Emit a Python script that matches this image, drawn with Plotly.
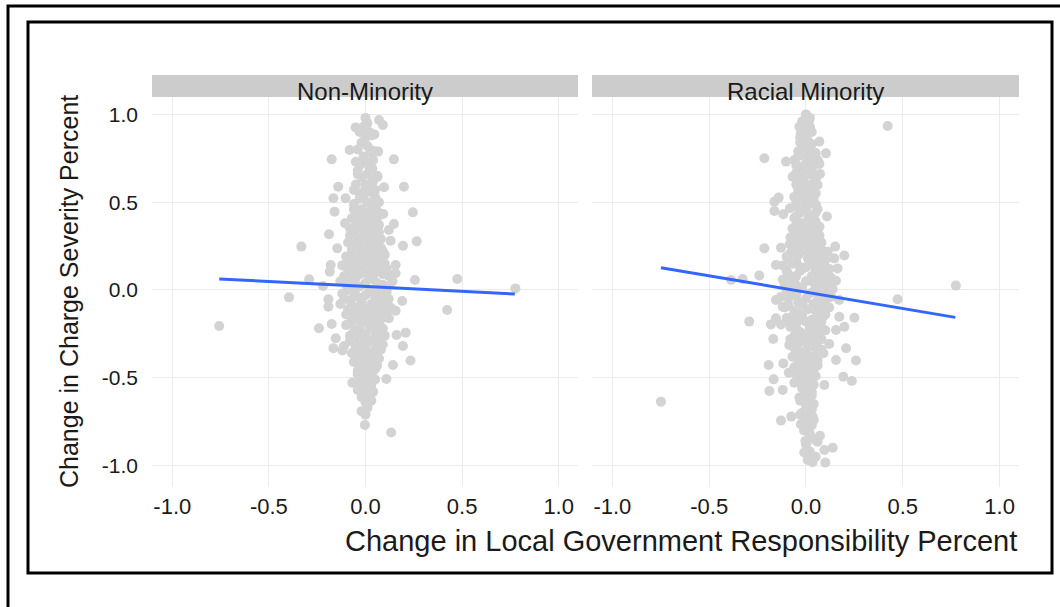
import plotly.graph_objects as go

# ---------------- data ----------------
panels = ["Non-Minority", "Racial Minority"]

# Non-Minority: (change in local gov responsibility, change in charge severity)
nm_outliers = [
    (-0.757, -0.205), (-0.396, -0.042), (-0.332, 0.247), (-0.292, 0.061), (-0.241, -0.218),
    (-0.175, 0.744), (-0.189, 0.317), (-0.166, 0.522), (-0.160, 0.446), (-0.141, 0.588),
    (-0.103, 0.522), (-0.082, 0.797), (-0.051, 0.926), (-0.106, 0.380), (-0.146, 0.237),
    (-0.180, 0.142), (-0.185, 0.104), (-0.220, 0.023), (-0.192, -0.053), (-0.192, -0.095),
    (-0.175, -0.194), (-0.154, -0.275), (-0.166, -0.332), (-0.111, -0.319), (-0.119, -0.345),
    (-0.068, -0.528), (-0.003, -0.769), (0.133, -0.812), (0.070, 0.968), (0.090, 0.940),
    (0.046, 0.886), (0.027, 0.797), (0.066, 0.788), (0.147, 0.744), (0.035, 0.693),
    (0.063, 0.645), (0.096, 0.585), (0.199, 0.588), (0.056, 0.494), (0.092, 0.433),
    (0.245, 0.442), (0.147, 0.376), (0.121, 0.342), (0.130, 0.281), (0.194, 0.252),
    (0.265, 0.277), (0.156, 0.142), (0.156, 0.095), (0.256, 0.057), (0.475, 0.063),
    (0.776, 0.009), (0.423, -0.114), (0.190, -0.063), (0.156, -0.118), (0.121, -0.161),
    (0.161, -0.256), (0.208, -0.243), (0.194, -0.319), (0.233, -0.402), (0.142, -0.427),
    (0.108, -0.507),
]
nm_core = [
    (0.0, 0.98), (0.01, 0.95), (-0.01, 0.93), (0.02, 0.90), (0.0, 0.87), (-0.02, 0.84),
    (0.01, 0.82), (0.03, 0.78), (-0.01, 0.76), (0.0, 0.73), (-0.03, 0.71), (0.02, 0.70),
    (-0.04, 0.68), (0.01, 0.66), (-0.02, 0.64), (0.04, 0.62), (0.0, 0.60), (-0.05, 0.60),
    (0.0, 0.58), (0.02, 0.56), (-0.03, 0.55), (0.05, 0.53), (-0.01, 0.52), (0.01, 0.50),
    (-0.06, 0.49), (0.03, 0.48), (-0.02, 0.46), (0.06, 0.45), (0.0, 0.44), (-0.04, 0.43),
    (0.02, 0.42), (-0.07, 0.41), (0.04, 0.40), (0.0, 0.39), (-0.02, 0.38), (0.07, 0.37),
    (0.01, 0.36), (-0.05, 0.35), (0.03, 0.34), (-0.01, 0.33), (0.05, 0.32), (-0.08, 0.31),
    (0.0, 0.30), (0.08, 0.29), (-0.03, 0.28), (0.02, 0.27), (-0.06, 0.26), (0.05, 0.25),
    (0.0, 0.24), (-0.02, 0.23), (0.09, 0.22), (0.03, 0.21), (-0.07, 0.20), (0.01, 0.20),
    (-0.10, 0.19), (0.06, 0.18), (-0.04, 0.17), (0.0, 0.16), (0.10, 0.15), (-0.12, 0.14),
    (0.03, 0.13), (-0.02, 0.12), (0.07, 0.11), (-0.08, 0.10), (0.01, 0.09), (0.12, 0.08),
    (-0.05, 0.07), (0.04, 0.06), (-0.13, 0.05), (0.0, 0.04), (0.09, 0.03), (-0.03, 0.02),
    (0.06, 0.01), (-0.09, 0.0), (0.02, 0.0), (0.11, -0.01), (-0.06, -0.02), (0.0, -0.03),
    (0.05, -0.04), (-0.11, -0.05), (0.08, -0.06), (-0.02, -0.07), (0.03, -0.08), (-0.07, -0.09),
    (0.13, -0.10), (0.0, -0.11), (-0.04, -0.12), (0.06, -0.13), (-0.10, -0.14), (0.02, -0.15),
    (0.09, -0.16), (-0.05, -0.17), (0.0, -0.18), (-0.08, -0.19), (0.05, -0.20), (0.03, -0.21),
    (-0.03, -0.22), (0.07, -0.23), (-0.06, -0.24), (0.0, -0.25), (0.10, -0.26), (-0.02, -0.27),
    (0.04, -0.28), (-0.08, -0.29), (0.01, -0.30), (0.06, -0.31), (-0.04, -0.32), (0.0, -0.33),
    (0.08, -0.34), (-0.06, -0.35), (0.02, -0.36), (-0.01, -0.37), (0.05, -0.38), (-0.05, -0.39),
    (0.0, -0.40), (0.03, -0.41), (-0.03, -0.42), (0.06, -0.43), (0.0, -0.44), (-0.02, -0.45),
    (0.04, -0.46), (0.01, -0.47), (-0.04, -0.48), (0.02, -0.50), (0.0, -0.52), (0.03, -0.54),
    (-0.02, -0.55), (0.01, -0.57), (0.03, -0.59), (-0.01, -0.60), (0.02, -0.62), (0.0, -0.64),
    (0.01, -0.67), (-0.02, -0.69), (0.0, -0.71),
]
nm_core2 = [
    (-0.03, 0.90), (0.03, 0.88), (-0.04, 0.80), (0.05, 0.79), (0.04, 0.74), (-0.05, 0.73),
    (0.03, 0.69), (-0.04, 0.66), (0.06, 0.65), (0.03, 0.61), (-0.06, 0.57), (0.05, 0.57),
    (-0.03, 0.52), (0.07, 0.50), (-0.06, 0.46), (0.04, 0.44), (-0.03, 0.41), (0.06, 0.41),
    (-0.05, 0.38), (0.04, 0.37), (-0.08, 0.35), (0.07, 0.33), (0.02, 0.31), (-0.05, 0.30),
    (0.06, 0.28), (-0.09, 0.27), (0.03, 0.26), (-0.04, 0.25), (0.08, 0.24), (-0.07, 0.23),
    (0.05, 0.22), (-0.02, 0.21), (0.10, 0.20), (-0.05, 0.19), (0.03, 0.18), (-0.08, 0.17),
    (0.08, 0.17), (0.02, 0.15), (-0.10, 0.15), (0.06, 0.14), (-0.05, 0.13), (0.11, 0.12),
    (-0.09, 0.12), (0.05, 0.10), (-0.03, 0.09), (0.09, 0.09), (-0.11, 0.08), (0.03, 0.07),
    (0.14, 0.05), (-0.07, 0.05), (0.06, 0.04), (-0.10, 0.03), (0.12, 0.02), (-0.05, 0.01),
    (0.04, -0.01), (-0.12, -0.02), (0.09, -0.02), (-0.04, -0.04), (0.12, -0.05), (-0.08, -0.06),
    (0.06, -0.07), (-0.13, -0.08), (0.10, -0.09), (-0.05, -0.10), (0.04, -0.10), (-0.09, -0.11),
    (0.08, -0.12), (-0.02, -0.13), (0.11, -0.14), (-0.07, -0.15), (0.05, -0.16), (-0.03, -0.18),
    (0.07, -0.19), (-0.10, -0.20), (0.02, -0.20), (0.09, -0.22), (-0.05, -0.23), (0.05, -0.24),
    (-0.08, -0.26), (0.07, -0.27), (-0.03, -0.28), (0.03, -0.29), (-0.06, -0.30), (0.09, -0.31),
    (-0.02, -0.33), (0.05, -0.34), (-0.07, -0.36), (0.04, -0.37), (-0.04, -0.38), (0.07, -0.39),
    (-0.06, -0.41), (0.02, -0.42), (-0.02, -0.43), (0.05, -0.45), (-0.04, -0.46), (0.03, -0.48),
    (-0.01, -0.49), (0.05, -0.51), (-0.03, -0.52), (0.02, -0.55), (-0.04, -0.57), (0.04, -0.58),
    (-0.02, -0.61), (0.03, -0.63), (0.01, -0.66),
]

rm_outliers = [
    (-0.749, -0.636), (0.422, 0.934), (0.774, 0.025), (0.473, -0.053), (-0.215, 0.750),
    (-0.103, 0.731), (-0.069, 0.645), (0.069, 0.845), (0.103, 0.778), (0.069, 0.718),
    (0.072, 0.661), (0.060, 0.598), (-0.141, 0.526), (-0.163, 0.503), (-0.163, 0.450),
    (-0.117, 0.431), (-0.083, 0.465), (0.052, 0.484), (0.108, 0.418), (-0.215, 0.237),
    (-0.129, 0.241), (-0.083, 0.262), (0.151, 0.247), (0.112, 0.218), (0.198, 0.196),
    (0.146, 0.180), (-0.155, 0.142), (-0.241, 0.082), (-0.327, 0.063), (-0.387, 0.057),
    (0.163, 0.123), (0.155, 0.053), (0.138, 0.004), (0.172, -0.057), (-0.155, -0.057),
    (-0.120, -0.095), (0.172, -0.152), (0.250, -0.158), (-0.293, -0.180), (-0.181, -0.196),
    (-0.155, -0.161), (-0.129, -0.196), (0.198, -0.209), (0.155, -0.228), (-0.169, -0.279),
    (-0.086, -0.313), (0.207, -0.332), (0.120, -0.308), (-0.193, -0.427), (-0.117, -0.418),
    (-0.089, -0.471), (0.155, -0.399), (0.258, -0.402), (0.193, -0.494), (0.237, -0.518),
    (-0.167, -0.509), (-0.060, -0.528), (-0.189, -0.575), (-0.120, -0.569), (0.095, -0.541),
    (-0.034, -0.613), (-0.129, -0.744), (-0.076, -0.721), (-0.026, -0.765), (0.034, -0.721),
    (0.0, -0.797), (0.072, -0.830), (0.060, -0.864), (-0.003, -0.860), (0.138, -0.898),
    (0.095, -0.911), (-0.009, -0.926), (0.009, -0.968), (0.034, -0.981), (0.100, -0.983),
    (0.0, 1.0), (0.017, 0.968), (-0.034, 0.930), (-0.026, 0.892), (-0.021, 0.845),
]
rm_core = [
    (0.0, 0.99), (0.01, 0.97), (-0.01, 0.95), (0.02, 0.93), (-0.02, 0.91), (0.0, 0.89),
    (-0.03, 0.87), (0.01, 0.85), (0.03, 0.83), (-0.01, 0.81), (0.0, 0.79), (0.04, 0.77),
    (-0.04, 0.76), (0.02, 0.75), (-0.06, 0.74), (0.0, 0.72), (-0.02, 0.70), (0.03, 0.69),
    (-0.05, 0.67), (0.01, 0.66), (-0.01, 0.64), (0.05, 0.63), (-0.03, 0.62), (0.0, 0.60),
    (0.02, 0.58), (-0.04, 0.57), (0.01, 0.55), (-0.02, 0.54), (0.04, 0.52), (0.0, 0.51),
    (-0.05, 0.50), (0.02, 0.49), (-0.01, 0.47), (0.06, 0.46), (0.0, 0.45), (-0.03, 0.44),
    (0.03, 0.42), (-0.06, 0.41), (0.01, 0.40), (0.05, 0.39), (-0.02, 0.38), (0.0, 0.36),
    (-0.07, 0.35), (0.04, 0.34), (0.02, 0.33), (-0.04, 0.32), (0.07, 0.31), (0.0, 0.30),
    (-0.01, 0.28), (0.05, 0.27), (-0.06, 0.26), (0.02, 0.25), (-0.03, 0.24), (0.08, 0.23),
    (0.0, 0.22), (-0.08, 0.21), (0.04, 0.20), (-0.10, 0.19), (0.01, 0.18), (0.10, 0.17),
    (-0.05, 0.16), (0.06, 0.15), (-0.12, 0.14), (0.0, 0.13), (0.12, 0.12), (-0.03, 0.11),
    (0.08, 0.10), (-0.09, 0.09), (0.03, 0.08), (0.13, 0.07), (-0.06, 0.06), (0.0, 0.05),
    (0.09, 0.04), (-0.11, 0.03), (0.05, 0.02), (-0.02, 0.01), (0.11, 0.0), (-0.07, -0.01),
    (0.02, -0.02), (0.07, -0.03), (-0.13, -0.04), (0.0, -0.05), (0.10, -0.06), (-0.04, -0.07),
    (0.04, -0.08), (-0.09, -0.09), (0.12, -0.10), (0.01, -0.11), (-0.06, -0.12), (0.07, -0.13),
    (-0.02, -0.14), (0.09, -0.15), (-0.10, -0.16), (0.03, -0.17), (0.0, -0.18), (-0.05, -0.19),
    (0.06, -0.20), (-0.08, -0.21), (0.02, -0.22), (0.10, -0.23), (-0.03, -0.24), (0.05, -0.25),
    (-0.06, -0.26), (0.0, -0.27), (0.08, -0.28), (-0.02, -0.29), (0.04, -0.30), (-0.07, -0.31),
    (0.01, -0.32), (0.06, -0.33), (-0.04, -0.34), (0.0, -0.35), (0.09, -0.36), (-0.05, -0.37),
    (0.03, -0.38), (-0.01, -0.39), (0.06, -0.40), (-0.03, -0.41), (0.02, -0.42), (0.0, -0.43),
    (-0.06, -0.44), (0.04, -0.45), (0.01, -0.46), (-0.02, -0.48), (0.05, -0.49), (0.0, -0.50),
    (-0.04, -0.51), (0.02, -0.53), (0.0, -0.55), (-0.02, -0.56), (0.03, -0.58), (0.01, -0.60),
    (-0.01, -0.62), (0.02, -0.64), (0.0, -0.66), (0.03, -0.68), (-0.02, -0.70), (0.01, -0.72),
    (0.04, -0.74), (0.0, -0.76), (0.02, -0.78), (-0.01, -0.80),
]
rm_core2 = [
    (0.02, 0.98), (-0.02, 0.96), (0.03, 0.90), (-0.03, 0.84), (0.02, 0.82), (-0.04, 0.79),
    (0.05, 0.78), (-0.02, 0.77), (0.06, 0.74), (-0.05, 0.71), (0.04, 0.71), (-0.03, 0.66),
    (0.04, 0.65), (-0.05, 0.60), (0.03, 0.60), (-0.02, 0.56), (0.05, 0.55), (-0.06, 0.53),
    (0.03, 0.50), (-0.04, 0.47), (0.05, 0.44), (-0.05, 0.42), (0.03, 0.38), (-0.05, 0.37),
    (0.07, 0.36), (-0.03, 0.34), (0.06, 0.32), (-0.08, 0.30), (0.03, 0.29), (-0.05, 0.28),
    (0.08, 0.27), (-0.02, 0.26), (0.05, 0.24), (-0.07, 0.23), (0.10, 0.21), (-0.04, 0.20),
    (0.07, 0.19), (-0.09, 0.18), (0.03, 0.16), (-0.07, 0.15), (0.09, 0.14), (-0.03, 0.13),
    (0.05, 0.12), (-0.10, 0.11), (0.10, 0.09), (-0.05, 0.08), (0.06, 0.07), (-0.12, 0.06),
    (0.03, 0.05), (-0.08, 0.04), (0.12, 0.03), (-0.04, 0.02), (0.08, 0.01), (-0.10, 0.0),
    (0.04, -0.01), (-0.05, -0.03), (0.13, -0.04), (-0.09, -0.05), (0.06, -0.06), (-0.02, -0.08),
    (0.08, -0.09), (-0.11, -0.10), (0.04, -0.11), (-0.04, -0.13), (0.10, -0.14), (-0.07, -0.15),
    (0.05, -0.16), (-0.03, -0.17), (0.08, -0.18), (-0.08, -0.19), (0.03, -0.21), (-0.05, -0.22),
    (0.07, -0.24), (-0.02, -0.25), (0.03, -0.27), (-0.08, -0.28), (0.06, -0.29), (-0.04, -0.30),
    (0.03, -0.32), (-0.06, -0.33), (0.08, -0.34), (-0.02, -0.36), (0.05, -0.37), (-0.07, -0.38),
    (0.02, -0.40), (-0.04, -0.42), (0.06, -0.43), (-0.02, -0.45), (0.03, -0.47), (-0.05, -0.48),
    (0.02, -0.51), (-0.03, -0.53), (0.04, -0.54), (-0.01, -0.57), (0.03, -0.60), (-0.03, -0.63),
    (0.04, -0.65), (0.01, -0.68), (-0.03, -0.71), (0.03, -0.72), (0.0, -0.74), (0.03, -0.77),
    (-0.01, -0.78), (0.02, -0.82), (0.04, -0.85), (0.0, -0.88), (0.02, -0.92), (0.05, -0.95),
]

# fitted regression lines (x endpoints, fitted y)
nm_fit_x = [-0.757, 0.773]
nm_fit_y = [0.063, -0.023]
rm_fit_x = [-0.749, 0.771]
rm_fit_y = [0.127, -0.156]

tick_vals = [-1.0, -0.5, 0.0, 0.5, 1.0]
tick_text = ["-1.0", "-0.5", "0.0", "0.5", "1.0"]

x_title = "Change in Local Government Responsibility Percent"
y_title = "Change in Charge Severity Percent"

# ---------------- layout geometry (pixels) ----------------
W, H = 1060, 607
def px(x):
    return x / W
def py(y):
    return 1 - y / H

FONT = "Arial, Liberation Sans, sans-serif"
GRID = "#EBEBEB"
POINT = "#D3D3D3"
BLUE = "#3366FF"
TXT = "#1a1a1a"

fig = go.Figure()

datasets = [(nm_outliers + nm_core + nm_core2, nm_fit_x, nm_fit_y, "x", "y"),
            (rm_outliers + rm_core + rm_core2, rm_fit_x, rm_fit_y, "x2", "y2")]
for pts, fx, fy, xa, ya in datasets:
    fig.add_trace(go.Scatter(
        x=[p[0] for p in pts], y=[p[1] for p in pts], mode="markers",
        marker=dict(color=POINT, size=10, line=dict(width=0)),
        xaxis=xa, yaxis=ya, showlegend=False, hoverinfo="skip"))
    fig.add_trace(go.Scatter(
        x=fx, y=fy, mode="lines", line=dict(color=BLUE, width=3),
        xaxis=xa, yaxis=ya, showlegend=False, hoverinfo="skip"))

panel_left = [152, 592]
panel_right = [578, 1019]
panel_top, panel_bottom = 97, 487

grid_common = dict(showgrid=True, gridcolor=GRID, gridwidth=1.3, zeroline=False,
                   showline=False, ticks="", tickvals=tick_vals, ticktext=tick_text)
xfont = dict(family=FONT, size=22, color=TXT)
yfont = dict(family=FONT, size=21, color=TXT)

fig.update_layout(
    width=W, height=H, margin=dict(l=0, r=0, t=0, b=0),
    paper_bgcolor="white", plot_bgcolor="white",
    xaxis=dict(domain=[px(panel_left[0]), px(panel_right[0])], range=[-1.105, 1.10],
               anchor="y", tickfont=xfont, ticklabelstandoff=4, **grid_common),
    xaxis2=dict(domain=[px(panel_left[1]), px(panel_right[1])], range=[-1.105, 1.10],
                anchor="y2", tickfont=xfont, ticklabelstandoff=4, **grid_common),
    yaxis=dict(domain=[py(panel_bottom), py(panel_top)], range=[-1.122, 1.099],
               anchor="x", tickfont=yfont, ticklabelstandoff=13, **grid_common),
    yaxis2=dict(domain=[py(panel_bottom), py(panel_top)], range=[-1.122, 1.099],
                anchor="x2", matches="y", showticklabels=False, **grid_common),
)

shapes = []
# outer and inner frames
shapes.append(dict(type="rect", xref="paper", yref="paper",
                   x0=px(8), x1=px(1080), y0=py(640), y1=py(6),
                   line=dict(color="black", width=3), fillcolor="rgba(0,0,0,0)"))
shapes.append(dict(type="rect", xref="paper", yref="paper",
                   x0=px(28), x1=px(1052), y0=py(573), y1=py(22),
                   line=dict(color="black", width=3), fillcolor="rgba(0,0,0,0)"))
annotations = []
for i, name in enumerate(panels):
    shapes.append(dict(type="rect", xref="paper", yref="paper",
                       x0=px(panel_left[i]), x1=px(panel_right[i]), y0=py(97), y1=py(75),
                       line=dict(width=0), fillcolor="#CCCCCC", layer="below"))
    annotations.append(dict(text=name, xref="paper", yref="paper",
                            x=px((panel_left[i] + panel_right[i]) / 2), y=py(91),
                            xanchor="center", yanchor="middle", showarrow=False,
                            font=dict(family=FONT, size=24, color=TXT)))

annotations.append(dict(text=x_title, xref="paper", yref="paper", x=px(1019), y=py(541),
                        xanchor="right", yanchor="middle", showarrow=False,
                        font=dict(family=FONT, size=29, color=TXT)))
annotations.append(dict(text=y_title, xref="paper", yref="paper", x=px(69), y=py(292),
                        xanchor="center", yanchor="middle", showarrow=False, textangle=-90,
                        font=dict(family=FONT, size=25, color=TXT)))

fig.update_layout(shapes=shapes, annotations=annotations)

fig.write_html("out.html", config={"displayModeBar": False},
               post_script="document.body.style.margin='0';")
